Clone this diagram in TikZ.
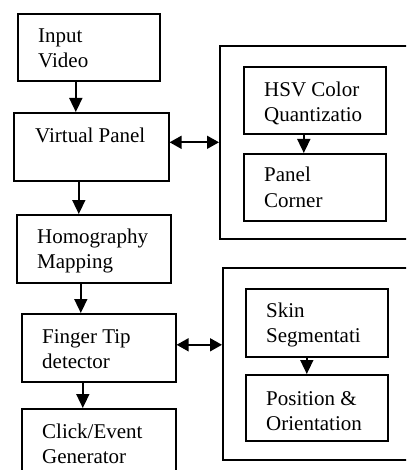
\documentclass[tikz,border=0pt]{standalone}
\usepackage{fontspec}
\setmainfont{Liberation Serif}
\usetikzlibrary{arrows.meta}

\tikzset{
  stage/.style={draw,line width=1.6pt,rectangle,inner sep=0pt,anchor=north west},
  txt/.style={anchor=base west,align=left,inner sep=0pt,font=\fontsize{21}{25}\selectfont},
  arr/.style={line width=1.6pt,-{Triangle[length=14pt,width=13pt]}},
  dbl/.style={line width=1.6pt,{Triangle[length=12pt,width=13pt]}-{Triangle[length=12pt,width=13pt]}}
}

\begin{document}
\begin{tikzpicture}[x=1pt,y=-1pt]
      \clip (0,0) rectangle (406,470);
      % left column
      \node[stage,minimum width=142pt,minimum height=67pt] (input) at (17,13) {};
      \node[stage,minimum width=155pt,minimum height=68pt] (vp) at (13,112) {};
      \node[stage,minimum width=154pt,minimum height=68pt] (hom) at (16,214) {};
      \node[stage,minimum width=154pt,minimum height=68pt] (ft) at (21,313) {};
      \node[stage,minimum width=154pt,minimum height=100pt] (click) at (21,408) {};
      % right groups
      \node[stage,minimum width=250pt,minimum height=193pt] (grpA) at (219,45) {};
      \node[stage,minimum width=142pt,minimum height=67pt] (hsv) at (243,66) {};
      \node[stage,minimum width=142pt,minimum height=67pt] (corner) at (243,153) {};
      \node[stage,minimum width=250pt,minimum height=192pt] (grpB) at (222,267) {};
      \node[stage,minimum width=142pt,minimum height=68pt] (skin) at (245,288) {};
      \node[stage,minimum width=142pt,minimum height=66pt] (pos) at (245,374) {};
      % labels (base = last line)
      \node[txt] (inputT) at ([shift={(21,55)}]input.north west) {Input\\Video};
      \node[txt] (vpT) at ([shift={(22,31)}]vp.north west) {Virtual Panel};
      \begin{scope}
        \clip (hom.north west) rectangle ([yshift=11pt]hom.south east);
        \node[txt] (homT) at ([shift={(21,54)}]hom.north west) {Homography\\Mapping};
      \end{scope}
      \node[txt] (ftT) at ([shift={(21,55)}]ft.north west) {Finger Tip\\detector};
      \node[txt] (clickT) at ([shift={(21,55)}]click.north west) {Click/Event\\Generator};
      \node[txt] (hsvT) at ([shift={(21,56)}]hsv.north west) {HSV Color\\Quantizatio};
      \node[txt] (cornerT) at ([shift={(21,54)}]corner.north west) {Panel\\Corner};
      \node[txt] (skinT) at ([shift={(21,54)}]skin.north west) {Skin\\Segmentati};
      \node[txt] (posT) at ([shift={(21,56)}]pos.north west) {Position \&\\Orientation};
      % connectors
      \draw[arr] ([xshift=-13pt]input.south) -- ([xshift=-13pt]input.south |- vp.north);
      \draw[arr] ([xshift=-12.5pt]vp.south) -- ([xshift=-12.5pt]vp.south |- hom.north);
      \draw[arr] ([xshift=-13pt]hom.south) -- ([xshift=-13pt]hom.south |- ft.north);
      \draw[arr] ([xshift=-16pt]ft.south) -- ([xshift=-16pt]ft.south |- click.north);
      \draw[arr] ([xshift=-11pt]hsv.south) -- ([xshift=-11pt]hsv.south |- corner.north);
      \draw[arr] ([xshift=-10pt]skin.south) -- ([xshift=-10pt]skin.south |- pos.north);
      \draw[dbl] (vp.east |- grpA.west) -- (grpA.west);
      \draw[dbl] ([yshift=3pt]ft.east) -- ([yshift=3pt]ft.east -| grpB.west);
    \end{tikzpicture}
\end{document}
